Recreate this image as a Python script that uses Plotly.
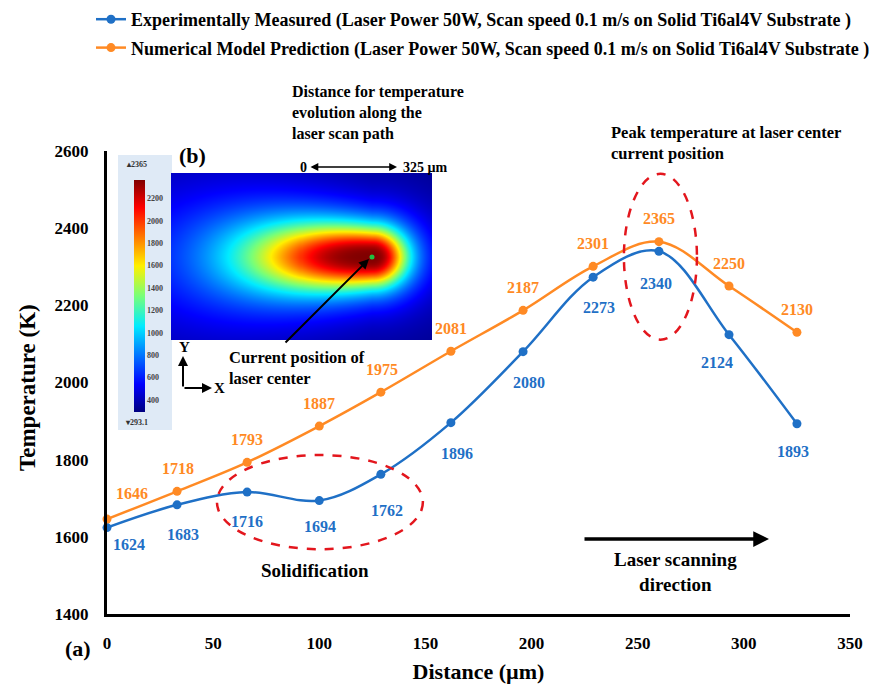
import numpy as np
import plotly.graph_objects as go

# ---------------- data ----------------
distance_um = [0, 33, 66, 100, 129, 162, 196, 229, 260, 293, 325]
measured_K = [1624, 1683, 1716, 1694, 1762, 1896, 2080, 2273, 2340, 2124, 1893]
model_K = [1646, 1718, 1793, 1887, 1975, 2081, 2187, 2301, 2365, 2250, 2130]
x_ticks = [0, 50, 100, 150, 200, 250, 300, 350]
y_ticks = [1400, 1600, 1800, 2000, 2200, 2400, 2600]
cbar_ticks = [400, 600, 800, 1000, 1200, 1400, 1600, 1800, 2000, 2200]
cbar_min, cbar_max = 293.1, 2365

# label offsets (px)
measured_dx = [22, 6, 0, 1, 6, 6, 6, 6, -3, -12, -4]
measured_dy = [17, 30, 29, 26, 36, 31, 31, 30, 32, 28, 28]
model_dx = [25, 1, 0, 0, 1, 0, 0, 0, 0, 0, 0]
model_dy = [-26, -23, -23, -23, -23, -23, -23, -23, -23, -23, -23]

BLUE = "#1f70c6"
ORANGE = "#ff8a24"
RED = "#e3161d"
FONT = "Liberation Serif"

# page offset of the figure (browser body margin)
OFF = 8
FW, FH = 877 - OFF, 688 - OFF
# plot area in page pixels
L, R, T, B = 107, 850, 151, 614
W, H = R - L, B - T


def px(x):
    return (x - L) / W


def py(y):
    return (B - y) / H


fig = go.Figure()

fig.add_trace(go.Scatter(
    x=distance_um, y=measured_K, mode="lines+markers",
    name="Experimentally Measured (Laser Power 50W, Scan speed 0.1 m/s on Solid Ti6al4V Substrate )",
    line=dict(color=BLUE, width=2.5, shape="spline", smoothing=1.0),
    marker=dict(color=BLUE, size=9), cliponaxis=False, legendgroup="a"))
fig.add_trace(go.Scatter(
    x=distance_um, y=model_K, mode="lines+markers",
    name="Numerical Model Prediction (Laser Power 50W, Scan speed 0.1 m/s on Solid Ti6al4V Substrate )",
    line=dict(color=ORANGE, width=2.5, shape="spline", smoothing=1.0),
    marker=dict(color=ORANGE, size=9), cliponaxis=False, legendgroup="b"))

# ---------------- inset temperature field (illustrative picture) ----------------
gx = np.linspace(0, 260, 131)
gy = np.linspace(-83.5, 83.5, 85)
XX, YY = np.meshgrid(gx, gy)
xi = XX - 200.0
sx = np.where(xi < 0, 120.0, 33.0)
sy = 29.0 * (1 + np.where(xi < 0, -xi, 0) / 300.0)
d = np.sqrt((xi / sx) ** 2 + (YY / sy) ** 2)
field = cbar_min + (cbar_max - cbar_min) / (1 + d ** 3)

jet = [[0, "rgb(0,0,128)"], [0.12, "rgb(0,0,255)"], [0.37, "rgb(0,235,255)"],
       [0.5, "rgb(120,255,120)"], [0.63, "rgb(255,240,0)"], [0.88, "rgb(255,0,0)"],
       [1, "rgb(128,0,0)"]]

fig.add_trace(go.Heatmap(
    x=gx, y=gy, z=field, xaxis="x2", yaxis="y2", colorscale=jet,
    zmin=cbar_min, zmax=cbar_max, zsmooth="best", showlegend=False,
    hoverinfo="skip",
    colorbar=dict(x=px(134), xanchor="left", y=py(296), yanchor="middle",
                  len=232 / H, lenmode="fraction", thickness=11, xpad=0, ypad=0,
                  outlinewidth=0, tickvals=cbar_ticks, ticks="",
                  tickfont=dict(family=FONT, size=8, color="#444"))))

fig.update_layout(
    width=FW, height=FH,
    margin=dict(l=L - OFF, r=FW - (R - OFF), t=T - OFF, b=FH - (B - OFF), autoexpand=False),
    paper_bgcolor="white", plot_bgcolor="white",
    font=dict(family=FONT, color="black", weight="bold"),
    showlegend=True,
    legend=dict(x=px(91), y=py(1), xanchor="left", yanchor="top",
                font=dict(family=FONT, size=18, color="black", weight="bold"),
                bgcolor="rgba(0,0,0,0)", tracegroupgap=2),
    xaxis=dict(range=[0, 350], tickvals=x_ticks, showgrid=False, zeroline=False,
               showline=True, linecolor="black", linewidth=3, ticks="",
               ticklabelstandoff=12,
               tickfont=dict(family=FONT, size=17, color="black", weight="bold"),
               title=dict(text="Distance (µm)", standoff=12,
                          font=dict(family=FONT, size=22, color="black", weight="bold"))),
    yaxis=dict(range=[1400, 2600], tickvals=y_ticks, showgrid=False, zeroline=False,
               showline=True, linecolor="black", linewidth=3, ticks="",
               ticklabelstandoff=12,
               tickfont=dict(family=FONT, size=17, color="black", weight="bold")),
    xaxis2=dict(domain=[px(171), px(432)], range=[0, 260], visible=False, anchor="y2"),
    yaxis2=dict(domain=[py(340), py(173)], range=[-83.5, 83.5], visible=False, anchor="x2"),
)

shapes = [
    # colorbar panel
    dict(type="rect", xref="paper", yref="paper", x0=px(118), x1=px(172), y0=py(430), y1=py(155),
         fillcolor="#dfeaf6", line=dict(width=0), layer="below"),
    # green laser spot
    dict(type="circle", xref="paper", yref="paper", x0=px(369.5), x1=px(374.5), y0=py(259.5), y1=py(254.5),
         fillcolor="#20c040", line=dict(width=0)),
    # red dashed ellipses
    dict(type="circle", xref="x", yref="y", x0=51.8, x1=148.8, y0=1568, y1=1812,
         line=dict(color=RED, width=2.5, dash="dash")),
    dict(type="circle", xref="x", yref="y", x0=243.5, x1=277.9, y0=2111, y1=2541,
         line=dict(color=RED, width=2.5, dash="dash")),
]
fig.update_layout(shapes=shapes)

ann = []
for xv, yv, dx, dy in zip(distance_um, measured_K, measured_dx, measured_dy):
    ann.append(dict(x=xv, y=yv, xref="x", yref="y", text=str(yv), showarrow=False,
                    xshift=dx, yshift=-dy,
                    font=dict(family=FONT, size=16, color=BLUE, weight="bold")))
for xv, yv, dx, dy in zip(distance_um, model_K, model_dx, model_dy):
    ann.append(dict(x=xv, y=yv, xref="x", yref="y", text=str(yv), showarrow=False,
                    xshift=dx, yshift=-dy,
                    font=dict(family=FONT, size=16, color=ORANGE, weight="bold")))


def txt(x, y, s, size=16, xanchor="center", align="center", color="black", angle=0):
    return dict(x=px(x), y=py(y), xref="paper", yref="paper", text=s, showarrow=False,
                xanchor=xanchor, yanchor="middle", align=align, textangle=angle,
                font=dict(family=FONT, size=size, color=color, weight="bold"))


ann += [
    txt(27, 388, "Temperature (K)", size=23, angle=-90),
    txt(78, 648, "(a)", size=22),
    txt(192, 155, "(b)", size=22),
    txt(315, 570, "Solidification", size=19),
    txt(609, 143, "Peak temperature at laser center<br>current position", size=16.5,
        xanchor="left", align="left"),
    txt(675, 572, "Laser scanning<br>direction", size=19),
    txt(290, 113, "Distance for temperature<br>evolution along the<br>laser scan path", size=16,
        xanchor="left", align="left"),
    txt(303, 167, "0", size=14),
    txt(401, 167, "325 µm", size=14, xanchor="left"),
    txt(227, 368, "Current position of<br>laser center", size=16.5, xanchor="left", align="left"),
    txt(184, 347, "Y", size=15),
    txt(219, 388, "X", size=15),
    txt(136, 164, "▴2365", size=8, color="#333"),
    txt(136, 422, "▾293.1", size=8, color="#333"),
]


def arrow(x0, y0, x1, y1, width=2, both=False, head=2, size=1.0):
    d = dict(x=px(x1), y=py(y1), xref="paper", yref="paper", ax=x0 - x1, ay=y0 - y1,
             axref="pixel", ayref="pixel", text="", showarrow=True, arrowhead=head,
             arrowsize=size, arrowwidth=width, arrowcolor="black", standoff=0, startstandoff=0)
    if both:
        d.update(arrowside="end+start", startarrowhead=head, startarrowsize=size)
    return d


ann += [
    arrow(284, 344, 369, 259, width=2),
    arrow(583, 539, 769, 539, width=3.5, size=0.9),
    arrow(309, 167, 397, 167, width=1.3, both=True, size=1.2),
    arrow(183, 388, 183, 356, width=2, size=1.0),
    arrow(183, 388, 212, 388, width=2, size=1.0),
]
fig.update_layout(annotations=ann)

fig.write_html("out.html")
